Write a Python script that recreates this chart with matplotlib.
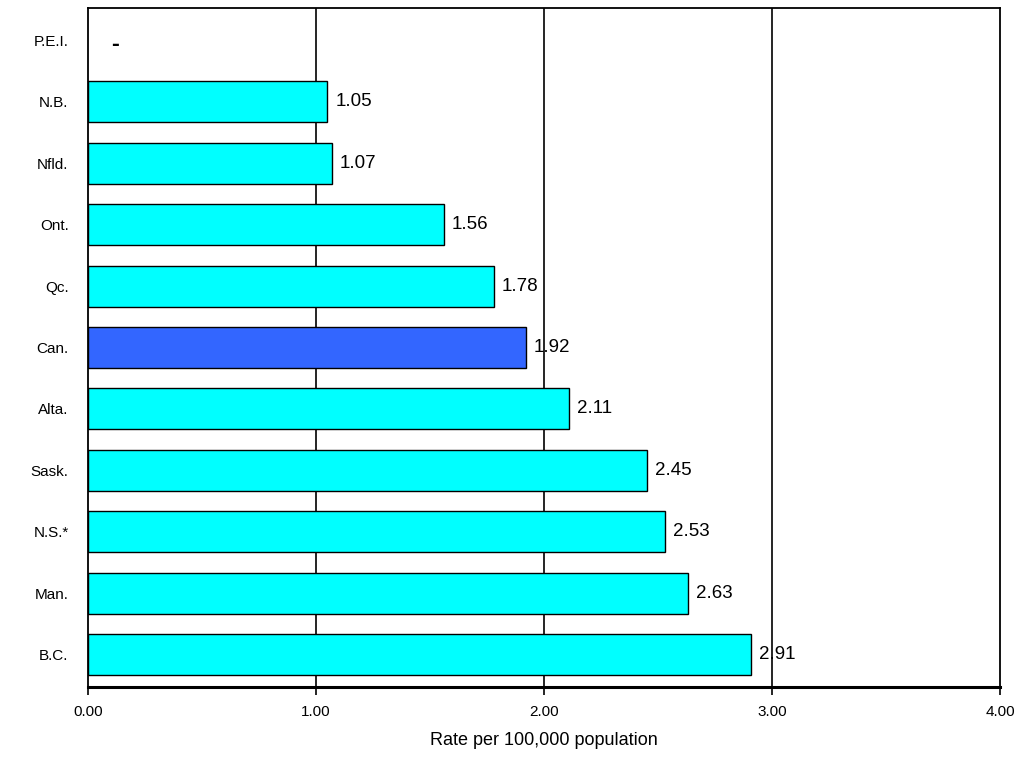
import matplotlib
matplotlib.use("Agg")
import matplotlib.pyplot as plt

# data, top to bottom as shown in the chart
provinces = ["P.E.I.", "N.B.", "Nfld.", "Ont.", "Qc.", "Can.", "Alta.", "Sask.", "N.S.*", "Man.", "B.C."]
rates = [None, 1.05, 1.07, 1.56, 1.78, 1.92, 2.11, 2.45, 2.53, 2.63, 2.91]
xticks = [0, 1, 2, 3, 4]
xtick_labels = ["0.00", "1.00", "2.00", "3.00", "4.00"]

plt.rcParams["font.family"] = ["Liberation Sans", "DejaVu Sans"]

fig = plt.figure(figsize=(10.24, 7.58), dpi=100)
ax = fig.add_axes([88 / 1024, 1 - 687 / 758, 912 / 1024, 679 / 758])

# vertical gridlines behind the bars
for x in xticks[1:-1]:
    ax.axvline(x, color="black", linewidth=1.2, zorder=0)

n = len(provinces)
for i, (name, val) in enumerate(zip(provinces, rates)):
    y = n - 1 - i
    if val is None:
        # no data for this one, just a dash
        ax.text(0.1, y - 0.07, "-", fontsize=17, fontweight="bold", va="center", ha="left")
        continue
    color = "#3366ff" if name == "Can." else "#00ffff"
    ax.barh(y, val, height=0.67, color=color, edgecolor="black", linewidth=1.0, zorder=2)
    ax.text(val + 0.035, y, "%.2f" % val, fontsize=13.5, va="center", ha="left", zorder=3)

ax.set_xlim(0, 4)
ax.set_ylim(-0.53, n - 0.47)
ax.set_yticks(range(n))
ax.set_yticklabels(provinces[::-1], fontsize=11)
ax.tick_params(axis="y", length=0, pad=14)
ax.set_xticks(xticks)
ax.set_xticklabels(xtick_labels, fontsize=11)
ax.tick_params(axis="x", length=6, width=1.2, direction="out", pad=7)
ax.set_xlabel("Rate per 100,000 population", fontsize=13, labelpad=9)

for side in ["top", "left", "right"]:
    ax.spines[side].set_linewidth(1.3)
ax.spines["bottom"].set_linewidth(2.2)

fig.savefig("out.png", dpi=100)
